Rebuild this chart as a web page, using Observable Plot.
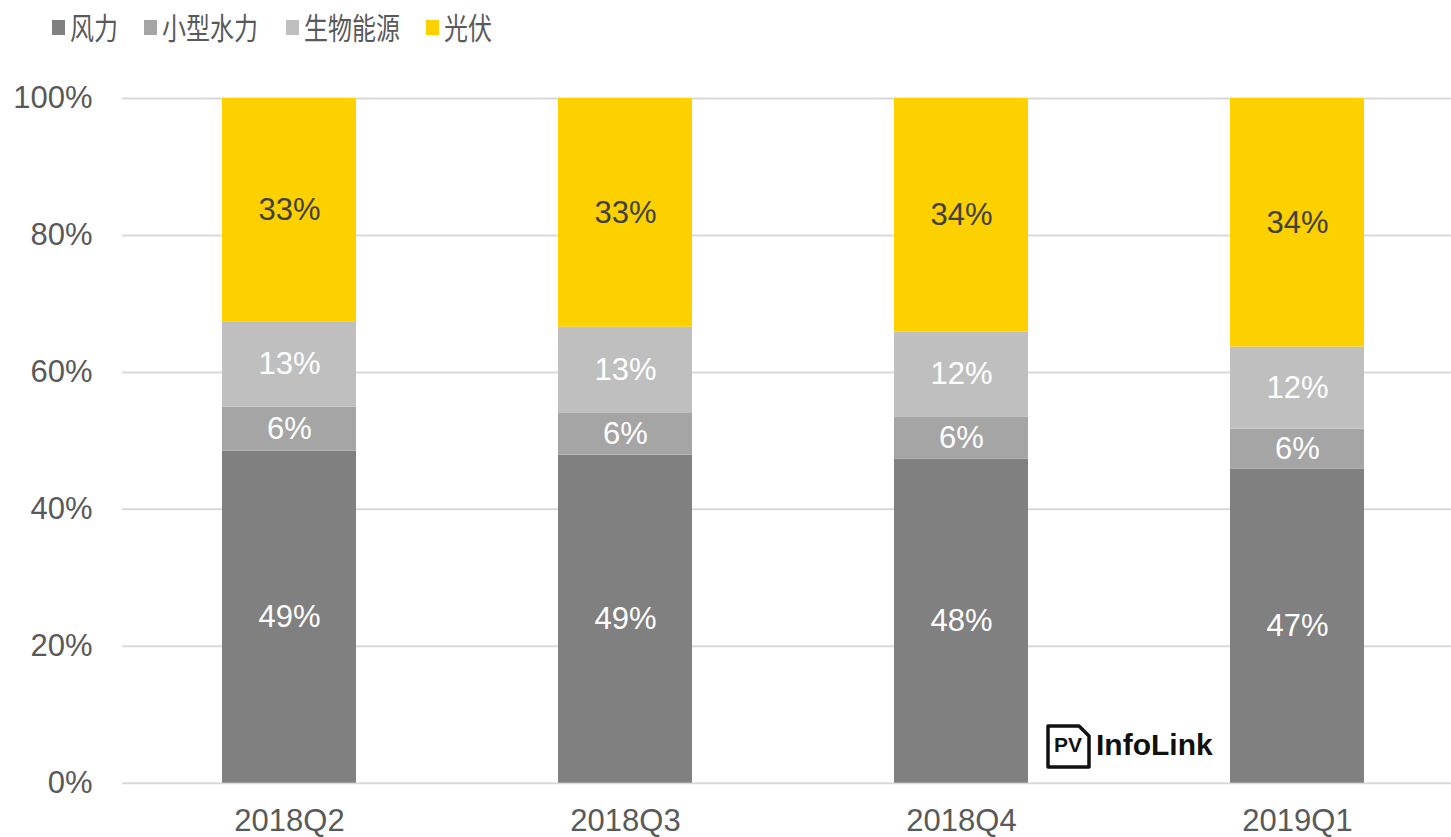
<!DOCTYPE html>
<html>
<head>
<meta charset="utf-8">
<script src="https://cdn.jsdelivr.net/npm/d3@7"></script>
<script src="https://cdn.jsdelivr.net/npm/@observablehq/plot@0.6"></script>
<style>
  html, body { margin: 0; padding: 0; background: white; overflow: hidden; }
  #wrap { position: relative; width: 1451px; height: 837px; }
  #legend { position: relative; height: 56px; font-family: "Noto Sans CJK SC", sans-serif; color: #595959; }
  .li { position: absolute; top: 0; height: 56px; }
  .sw { position: absolute; top: 20px; width: 13px; height: 15px; }
  .lt { position: absolute; top: 6px; font-size: 30px; line-height: 40px; white-space: nowrap; transform: scaleX(0.8); transform-origin: 0 0; }
  #logo { position: absolute; left: 1046px; top: 724px; width: 175px; height: 44px; font-family: "Liberation Sans", Arial, sans-serif; color: #111; }
  #logo .word { position: absolute; left: 50px; top: 3px; font-size: 30px; font-weight: bold; line-height: 36px; }
  #logo .pv { position: absolute; left: 8px; top: 10px; font-size: 21px; font-weight: bold; line-height: 22px; }
</style>
</head>
<body>
<div id="wrap">
  <div id="legend"></div>
  <div id="chart"></div>
  <div id="logo">
    <svg width="46" height="46" style="position:absolute;left:0;top:0">
      <path d="M2,2 H33 L43,12 V43 H2 Z" fill="white" stroke="#111" stroke-width="3.5" stroke-linejoin="round"/>
    </svg>
    <span class="pv">PV</span>
    <span class="word">InfoLink</span>
  </div>
</div>
<script>
const quarters = ["2018Q2", "2018Q3", "2018Q4", "2019Q1"];
const series = ["风力", "小型水力", "生物能源", "光伏"];
const colors = ["#808080", "#a5a5a5", "#bfbfbf", "#fdd000"];
const wind  = [48.5, 47.9, 47.3, 45.9];
const hydro = [6.4, 6.2, 6.2, 5.8];
const bio   = [12.5, 12.5, 12.4, 12.0];
const solar = [32.6, 33.4, 34.1, 36.3];
const windLabels  = ["49%", "49%", "48%", "47%"];
const hydroLabels = ["6%", "6%", "6%", "6%"];
const bioLabels   = ["13%", "13%", "12%", "12%"];
const solarLabels = ["33%", "33%", "34%", "34%"];
const yTicks = [0, 20, 40, 60, 80, 100];

const values = [wind, hydro, bio, solar];
const labels = [windLabels, hydroLabels, bioLabels, solarLabels];
const rows = [];
series.forEach((s, si) => {
  quarters.forEach((q, qi) => {
    rows.push({quarter: q, series: s, value: values[si][qi], label: labels[si][qi]});
  });
});

// legend
const legendX = [52, 144, 286, 426];
const legend = document.getElementById("legend");
series.forEach((s, i) => {
  const item = document.createElement("div");
  item.className = "li";
  item.style.left = legendX[i] + "px";
  item.innerHTML = `<div class="sw" style="left:0;background:${colors[i]}"></div><div class="lt" style="left:18px">${s}</div>`;
  legend.appendChild(item);
});

const chart = Plot.plot({
  width: 1451,
  height: 781,
  marginTop: 42,
  marginBottom: 54.3,
  marginLeft: 122,
  marginRight: 0,
  style: {fontFamily: "'Liberation Sans', Arial, sans-serif", color: "#595959", background: "white"},
  x: {domain: quarters, range: [121.5, 1465.5], paddingInner: 0.6, paddingOuter: 0.3, label: null},
  y: {domain: [0, 100], label: null},
  color: {domain: series, range: colors},
  marks: [
    Plot.ruleY(yTicks, {stroke: "#d9d9d9", strokeWidth: 2}),
    Plot.barY(rows, Plot.stackY({x: "quarter", y: "value", z: "series", fill: "series"})),
    Plot.text(rows, Plot.stackY({
      x: "quarter", y: "value", z: "series", text: "label",
      fill: d => d.series === "光伏" ? "#404040" : "#ffffff",
      fontSize: 31
    })),
    Plot.axisY({ticks: yTicks, tickFormat: d => d + "%", tickSize: 0, tickPadding: 30, fontSize: 31, label: null}),
    Plot.axisX({tickSize: 0, tickPadding: 26, fontSize: 31, label: null})
  ]
});
document.getElementById("chart").appendChild(chart);
</script>
</body>
</html>
